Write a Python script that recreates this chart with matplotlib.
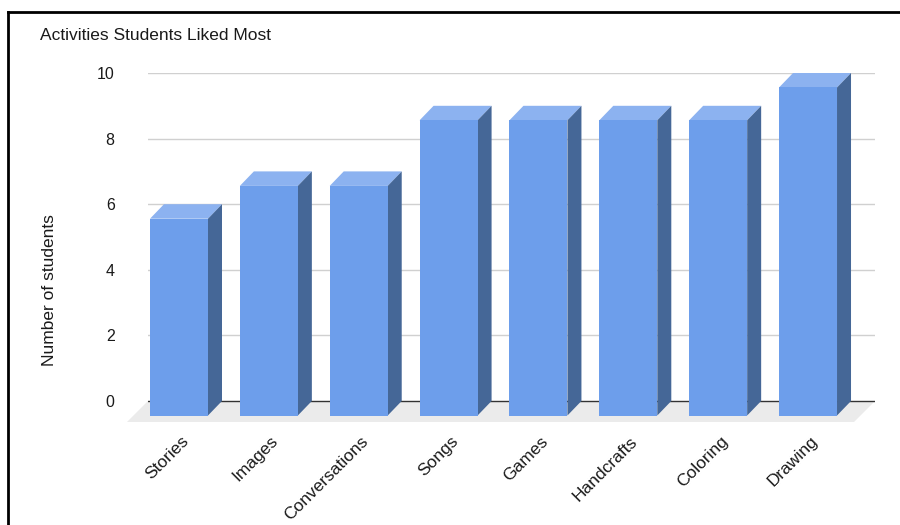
import matplotlib
matplotlib.use("Agg")
import matplotlib.pyplot as plt
from matplotlib.patches import Polygon
from matplotlib.lines import Line2D

plt.rcParams['font.family'] = ['Liberation Sans', 'DejaVu Sans']

title = "Activities Students Liked Most"
categories = ["Stories", "Images", "Conversations", "Songs", "Games",
              "Handcrafts", "Coloring", "Drawing"]
values = [6, 7, 7, 9, 9, 9, 9, 10]
y_ticks = [0, 2, 4, 6, 8, 10]
y_label = "Number of students"

FRONT = "#6d9eeb"
TOP = "#8cb2f0"
SIDE = "#456797"
FLOOR = "#ebebeb"
GRID = "#d0d0d0"
TEXT = "#1a1a1a"

W_PX, H_PX = 900, 525
fig = plt.figure(figsize=(9, 5.25), dpi=100)

# axes placement (pixels)
ax_left, ax_right = 148, 875
y_top_px, y_zero_px = 73, 401
ymin = -0.7
unit = (y_zero_px - y_top_px) / 10.0
y_bottom_px = y_zero_px - ymin * unit
ax = fig.add_axes([ax_left / W_PX, 1 - y_bottom_px / H_PX,
                   (ax_right - ax_left) / W_PX, (y_bottom_px - y_top_px) / H_PX])

spacing = 89.86
x_lo = (ax_left - 179) / spacing
x_hi = (ax_right - 179) / spacing
ax.set_xlim(x_lo, x_hi)
ax.set_ylim(ymin, 10)

bar_w = 58 / spacing
dx = 14 / spacing
dy = 14.5 / unit
fdx = 21 / spacing
fdy = 21 / unit

# floor
ax.add_patch(Polygon([(x_lo, 0), (x_hi, 0), (x_hi - fdx, -fdy), (x_lo - fdx, -fdy)],
                     closed=True, facecolor=FLOOR, edgecolor='none', zorder=0.5,
                     clip_on=False))
# gridlines
for t in y_ticks:
    if t == 0:
        continue
    ax.axhline(t, color=GRID, lw=1, zorder=0.6)
ax.axhline(0, color="#333333", lw=1, zorder=0.7)

for i, v in enumerate(values):
    x0 = i - bar_w / 2
    x1 = i + bar_w / 2
    yb = -dy
    yt = v - dy
    # top face
    ax.add_patch(Polygon([(x0, yt), (x1, yt), (x1 + dx, yt + dy), (x0 + dx, yt + dy)],
                         closed=True, facecolor=TOP, edgecolor='none', zorder=2,
                         clip_on=False))
    # side face
    ax.add_patch(Polygon([(x1, yt), (x1, yb), (x1 + dx, yb + dy), (x1 + dx, yt + dy)],
                         closed=True, facecolor=SIDE, edgecolor='none', zorder=2,
                         clip_on=False))
ax.bar(range(len(values)), values, width=bar_w, bottom=-dy, color=FRONT,
       zorder=3, clip_on=False, linewidth=0)

for s in ax.spines.values():
    s.set_visible(False)
ax.set_yticks(y_ticks)
ax.set_yticklabels([str(t) for t in y_ticks], fontsize=11.5, color=TEXT)
ax.tick_params(axis='y', length=0, pad=24)
ax.set_xticks([])
for i, c in enumerate(categories):
    ax.text(i + 0.02, -fdy - 0.35, c, rotation=45, ha='right', va='top',
            rotation_mode='anchor', fontsize=12.5, color=TEXT)

fig.text(40 / W_PX, 1 - 35 / H_PX, title, fontsize=12.5, color=TEXT,
         ha='left', va='center')
fig.text(50 / W_PX, 1 - 290 / H_PX, y_label, rotation=90, fontsize=12.5,
         color=TEXT, ha='center', va='center')

# frame lines (top and left)
fig.add_artist(Line2D([8 / W_PX, 1], [1 - 12 / H_PX, 1 - 12 / H_PX],
                      color='black', lw=2, transform=fig.transFigure))
fig.add_artist(Line2D([8 / W_PX, 8 / W_PX], [0, 1 - 12 / H_PX],
                      color='black', lw=2, transform=fig.transFigure))

fig.savefig("out.png", dpi=100)
